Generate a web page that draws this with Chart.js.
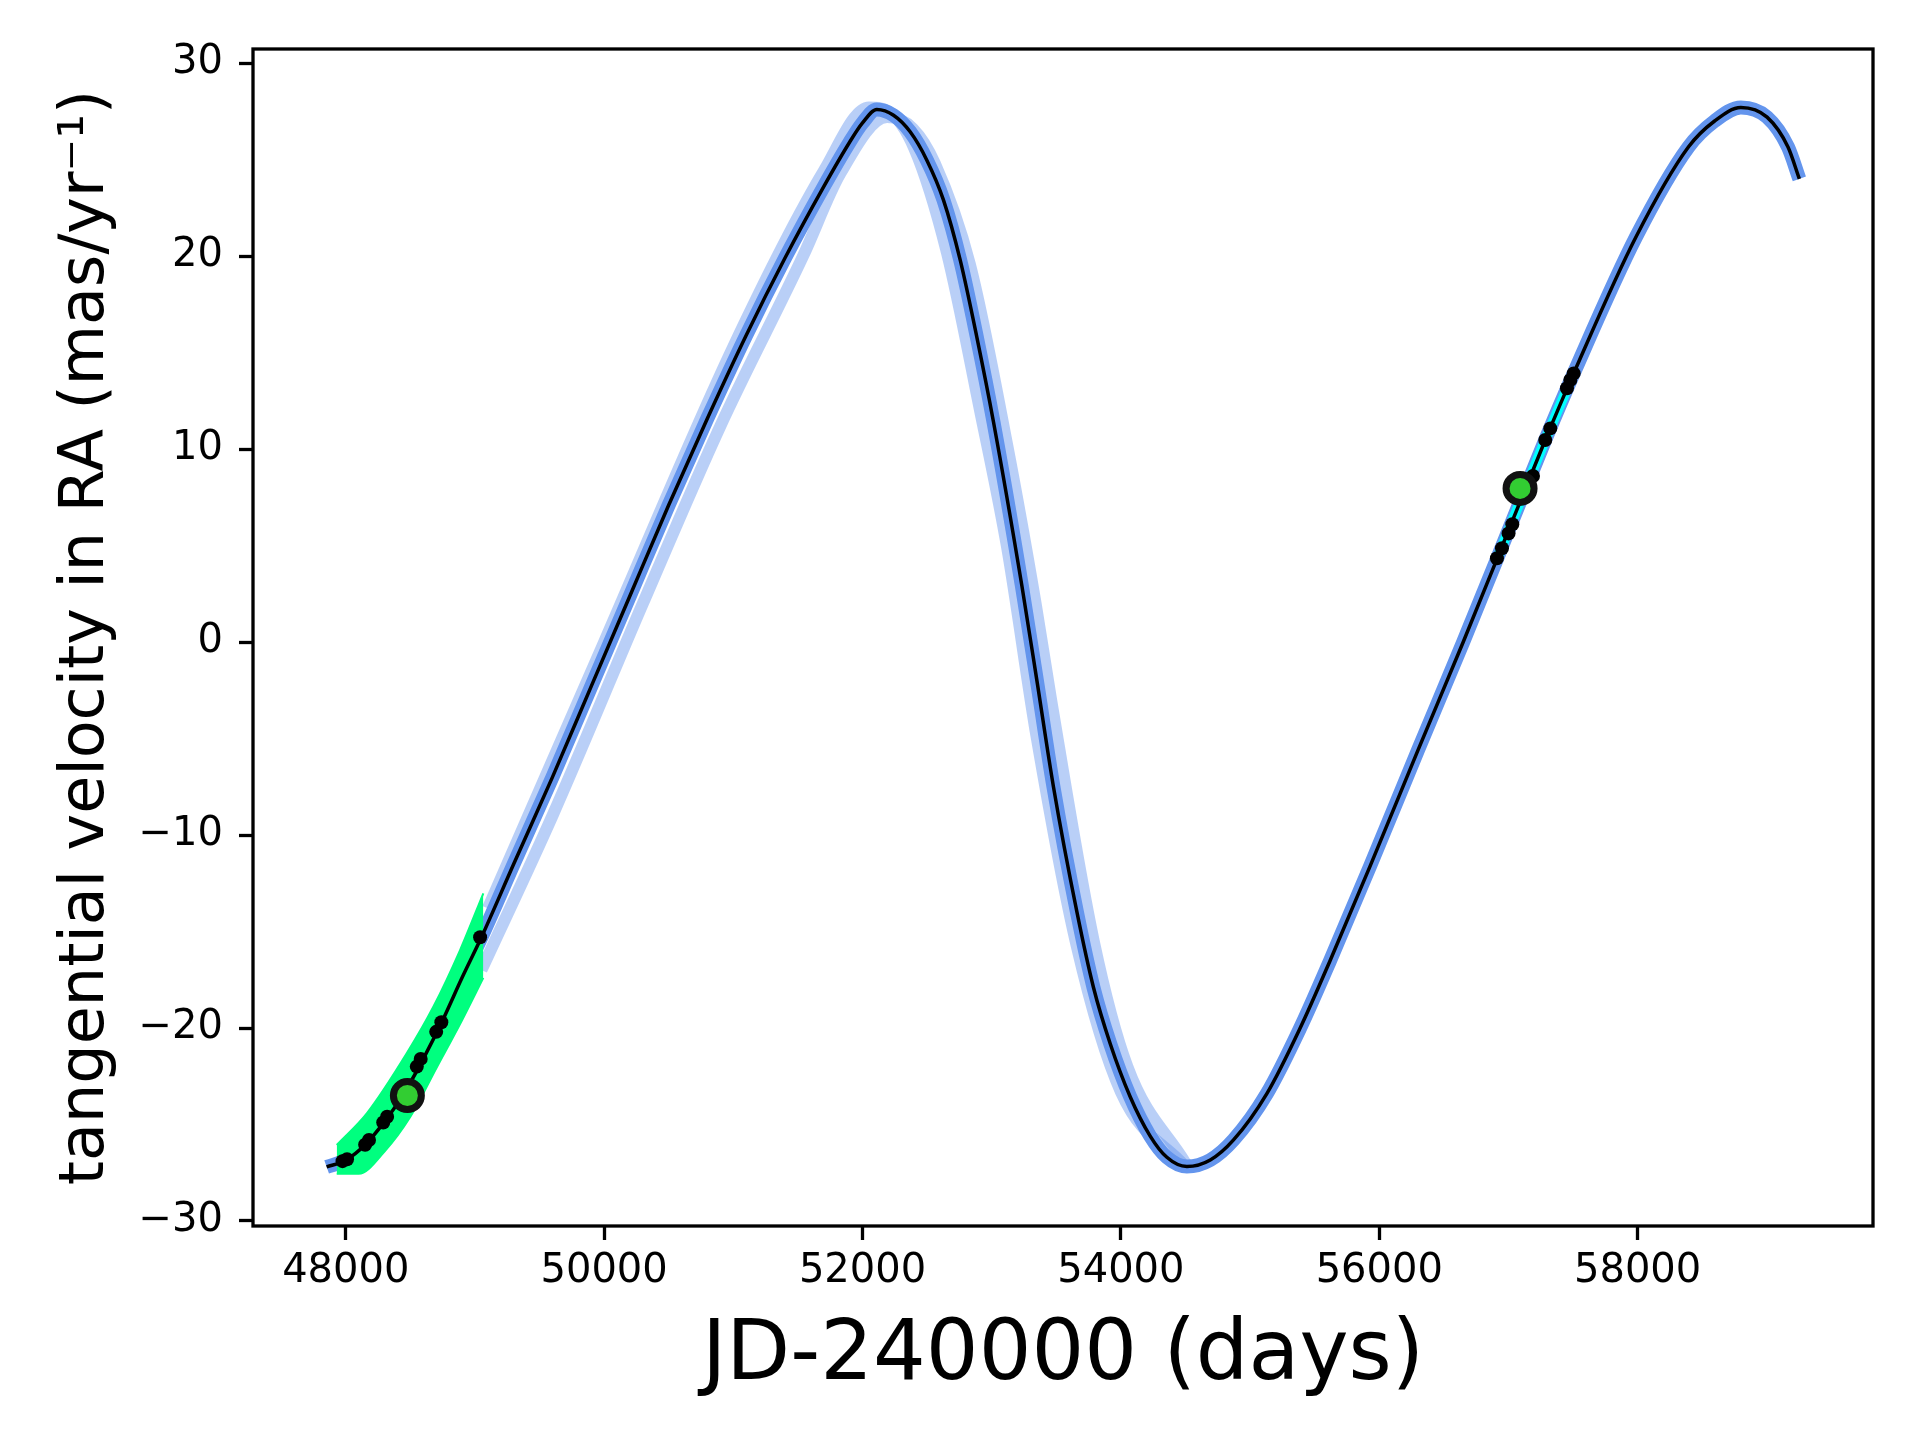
<!DOCTYPE html>
<html>
<head>
<meta charset="utf-8">
<script src="https://cdn.jsdelivr.net/npm/chart.js@4.4.1/dist/chart.umd.min.js"></script>
<style>
  html, body { margin: 0; padding: 0; background: #fff; }
  canvas { display: block; }
</style>
</head>
<body>
<canvas id="velocityChart" width="1920" height="1440"></canvas>
<script>
// best-fit orbit
const orbitDays = [47852, 48000, 48150, 48300, 48450, 48600, 48750, 48900, 49050, 49300,
  49600, 49900, 50200, 50500, 50800, 51100, 51400, 51700, 51900, 52000,
  52111, 52240, 52369, 52498, 52627, 52756, 52885, 53014, 53234, 53350,
  53478, 53660, 53788, 53917, 54072, 54227, 54356, 54511, 54692, 54872,
  55130, 55388, 55620, 55930, 56300, 56650, 56911, 57285, 57505, 57988,
  58393, 58596, 58799, 59002, 59164, 59252];
const orbitVel = [-27.2, -26.85, -26.05, -24.85, -23.4, -21.6, -19.6, -17.4, -15.3, -11.5,
  -7.0, -2.3, 2.4, 7.1, 11.6, 15.9, 19.9, 23.6, 25.9, 26.9,
  27.6, 27.3, 26.44, 24.97, 22.9, 19.8, 15.8, 11.4, 2.9, -2.0,
  -7.5, -14.0, -17.9, -20.8, -23.56, -25.6, -26.7, -27.18, -26.84, -25.8,
  -23.4, -20.0, -16.5, -11.6, -5.6, 0.0, 4.3, 10.47, 13.92, 21.0,
  25.65, 27.0, 27.7, 27.2, 25.65, 24.0];

// two of the fainter orbit samples
const lateSampleDays = [49050, 49600, 50300, 50900, 51540, 51830, 52190, 52390, 52560, 52830,
  53120, 53340, 53460, 53790, 54050, 54500];
const lateSampleVel = [-17.0, -9.0, 2.0, 11.2, 20.0, 24.3, 27.2, 26.6, 24.8, 19.6,
  10.2, 2.0, -3.0, -15.5, -22.0, -27.0];
const earlySampleDays = [49100, 50000, 51000, 51700, 52050, 52200, 52400, 52653, 52910, 53117,
  53350, 53660, 54000, 54500];
const earlySampleVel = [-13.8, 0.0, 15.3, 24.4, 27.7, 27.5, 25.6, 20.2, 12.0, 5.0,
  -5.0, -15.8, -23.3, -27.2];

// Hipparcos-era spread
const hipBandDays = [47930, 48163, 48472, 48678, 48885, 49065];
const hipBandHigh = [-26.06, -24.42, -21.31, -18.9, -15.96, -13.02];
const hipBandLowDays = [47930, 48100, 48300, 48500, 48700, 48900, 49065];
const hipBandLow = [-27.55, -27.55, -26.4, -24.6, -22.1, -19.6, -17.4];

// measurement epochs
const epochDays = [47975, 48010, 48150, 48180, 48290, 48320, 48550, 48580, 48700, 48740, 49040,
  56911, 56950, 57001, 57030, 57190, 57285, 57324, 57453, 57479, 57505];
const epochVel = [-26.9, -26.8, -26.05, -25.8, -24.9, -24.6, -22.0, -21.6, -20.2, -19.7, -15.3,
  4.34, 4.86, 5.63, 6.1, 8.6, 10.47, 11.07, 13.15, 13.58, 13.92];

// Hipparcos / Gaia proper motions
const pmDays = [48477, 57090];
const pmVel = [-23.5, 7.96];

const xTicks = [48000, 50000, 52000, 54000, 56000, 58000];
const yTicks = [-30, -20, -10, 0, 10, 20, 30];

const toPoints = (xs, ys) => xs.map((x, i) => ({x: x, y: ys[i]}));
const orbitPoints = toPoints(orbitDays, orbitVel);
const gaiaSpan = orbitPoints.filter(p => p.x >= 56900 && p.x <= 57520);

Chart.defaults.font.family = 'DejaVu Sans';
Chart.defaults.color = '#000';

const frame = {
  id: 'frame',
  afterDatasetsDraw(chart) {
    const {ctx, chartArea: a} = chart;
    ctx.save();
    ctx.strokeStyle = '#000';
    ctx.lineWidth = 3.3;
    ctx.strokeRect(a.left, a.top, a.right - a.left, a.bottom - a.top);
    ctx.restore();
  }
};

const lineStyle = {
  pointRadius: 0,
  pointHitRadius: 0,
  fill: false,
  cubicInterpolationMode: 'monotone'
};

const ctx = document.getElementById('velocityChart').getContext('2d');

new Chart(ctx, {
    type: 'line',
    data: {
        datasets: [{
            data: toPoints(pmDays, pmVel),
            showLine: false,
            pointRadius: 14,
            pointBackgroundColor: '#32CD32',
            pointBorderColor: '#111',
            pointBorderWidth: 7,
            order: 0
        }, {
            data: toPoints(epochDays, epochVel),
            showLine: false,
            pointRadius: 7,
            pointBackgroundColor: '#000',
            pointBorderColor: '#000',
            pointBorderWidth: 0,
            order: 1
        }, {
            ...lineStyle,
            data: orbitPoints,
            borderColor: '#000',
            borderWidth: 3.5,
            order: 2
        }, {
            ...lineStyle,
            data: gaiaSpan,
            borderColor: '#00FFFF',
            borderWidth: 10,
            order: 3
        }, {
            ...lineStyle,
            data: toPoints(hipBandDays, hipBandHigh),
            borderColor: '#00FF7F',
            backgroundColor: '#00FF7F',
            borderWidth: 2,
            fill: '+1',
            order: 4
        }, {
            ...lineStyle,
            data: toPoints(hipBandLowDays, hipBandLow),
            borderColor: '#00FF7F',
            borderWidth: 2,
            order: 4
        }, {
            ...lineStyle,
            data: orbitPoints,
            borderColor: '#6495ED',
            borderWidth: 14,
            order: 5
        }, {
            ...lineStyle,
            data: toPoints(lateSampleDays, lateSampleVel),
            borderColor: 'rgba(100, 149, 237, 0.45)',
            borderWidth: 12,
            order: 6
        }, {
            ...lineStyle,
            data: toPoints(earlySampleDays, earlySampleVel),
            borderColor: 'rgba(100, 149, 237, 0.45)',
            borderWidth: 12,
            order: 6
        }]
    },
    options: {
        responsive: false,
        devicePixelRatio: 1,
        animation: false,
        layout: {
            padding: { left: 0, right: 47, top: 49, bottom: 0 }
        },
        scales: {
            x: {
                type: 'linear',
                min: 47282,
                max: 59822,
                afterBuildTicks: scale => { scale.ticks = xTicks.map(v => ({value: v})); },
                afterFit: scale => { scale.height = 214; },
                ticks: {
                    font: { size: 40 },
                    color: '#000',
                    padding: 8,
                    maxRotation: 0,
                    autoSkip: false,
                    callback: value => String(value)
                },
                grid: {
                    drawOnChartArea: false,
                    drawTicks: true,
                    tickLength: 14,
                    tickWidth: 3.3,
                    tickColor: '#000'
                },
                border: { display: false },
                title: {
                    display: true,
                    text: 'JD-240000 (days)',
                    color: '#000',
                    font: { size: 83 },
                    padding: { top: 0, bottom: 33 }
                }
            },
            y: {
                type: 'linear',
                min: -30.26,
                max: 30.73,
                afterBuildTicks: scale => { scale.ticks = yTicks.map(v => ({value: v})); },
                afterFit: scale => { scale.width = 253; },
                ticks: {
                    font: { size: 40 },
                    color: '#000',
                    padding: 16,
                    autoSkip: false,
                    callback: value => value < 0 ? '\u2212' + (-value) : String(value)
                },
                grid: {
                    drawOnChartArea: false,
                    drawTicks: true,
                    tickLength: 14,
                    tickWidth: 3.3,
                    tickColor: '#000'
                },
                border: { display: false },
                title: {
                    display: true,
                    text: 'tangential velocity in RA (mas/yr\u207B\u00B9)',
                    color: '#000',
                    font: { size: 62 },
                    padding: { top: 50, bottom: 0 }
                }
            }
        },
        plugins: {
            legend: { display: false },
            tooltip: { enabled: false }
        }
    },
    plugins: [frame]
});
</script>
</body>
</html>
